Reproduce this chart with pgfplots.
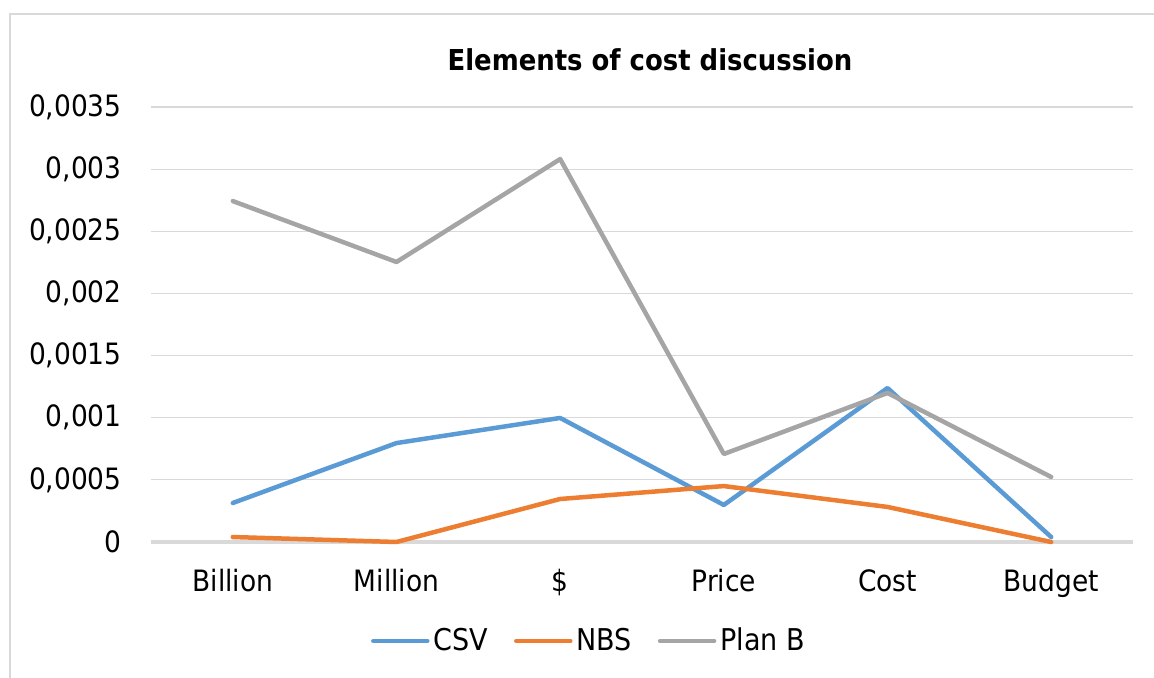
\documentclass[border=0pt]{standalone}
\usepackage{fontspec}
\setmainfont{DejaVu Sans Condensed}
\usepackage{pgfplots}
\pgfplotsset{compat=1.18}
\definecolor{csv}{HTML}{5B9BD5}
\definecolor{nbs}{HTML}{ED7D31}
\definecolor{planb}{HTML}{A5A5A5}
\definecolor{gridc}{HTML}{D9D9D9}
\begin{document}
\begin{tikzpicture}
\path[use as bounding box] (0,0) rectangle (577pt,339pt);
\draw[gridc, line width=0.6pt] (5pt,-1pt) -- (5pt,332pt) -- (578pt,332pt);
\node[font=\bfseries\fontsize{14.4}{17}\selectfont, anchor=center] at (325pt,309pt) {Elements of cost discussion};
\begin{axis}[
  at={(75.5pt,68pt)}, anchor=south west,
  scale only axis, width=491pt, height=217.5pt,
  xmin=-0.5, xmax=5.5, ymin=0, ymax=0.0035,
  xtick={0,1,2,3,4,5},
  xticklabels={Billion,Million,\$,Price,Cost,Budget},
  ytick={0,0.0005,0.001,0.0015,0.002,0.0025,0.003,0.0035},
  scaled y ticks=false,
  /pgf/number format/.cd, use comma, fixed, precision=4, 1000 sep={}, assume math mode=true,
  /pgfplots/.cd,
  axis line style={draw=none},
  major tick length=0pt,
  ymajorgrids, grid style={gridc, line width=0.6pt},
  extra y ticks={0}, extra y tick labels={},
  extra y tick style={grid style={gridc, line width=1.6pt}},
  tick label style={font=\fontsize{14.7}{18}\selectfont},
  yticklabel style={anchor=east, inner sep=0pt, xshift=-14.5pt},
  xticklabel style={anchor=north, inner sep=0pt, yshift=-13.5pt},
  clip=false,
  legend columns=3,
  legend style={at={(0.447,-0.2276)}, anchor=center, draw=none, fill=none,
    font=\fontsize{15}{18}\selectfont, inner sep=0pt,
    /tikz/every even column/.append style={column sep=11pt},
    /tikz/every odd column/.append style={column sep=0pt}},
  legend image code/.code={\draw[#1, line width=2.25pt, line cap=round] (0pt,0pt) -- (27pt,0pt);},
  every axis plot/.append style={line width=2.25pt, line join=round, line cap=round},
]
\addplot[csv] coordinates {(0,0.000314) (1,0.000796) (2,0.000998) (3,0.000298) (4,0.001239) (5,0.00004)};
\addplot[nbs] coordinates {(0,0.00004) (1,0.0) (2,0.000346) (3,0.00045) (4,0.000282) (5,0.0)};
\addplot[planb] coordinates {(0,0.002743) (1,0.002253) (2,0.003081) (3,0.000708) (4,0.001199) (5,0.000523)};
\legend{CSV,NBS,Plan B}
\end{axis}
\end{tikzpicture}
\end{document}
